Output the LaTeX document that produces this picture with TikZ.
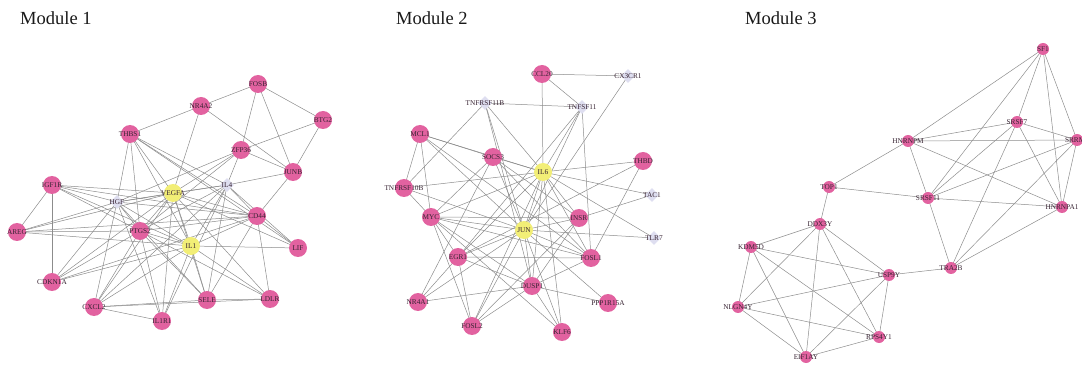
\documentclass[tikz,border=0pt]{standalone}
\usepackage{fontspec}
\setmainfont{Liberation Serif}
\usetikzlibrary{shapes.geometric}
\definecolor{pinkn}{RGB}{226,98,160}
\definecolor{yeln}{RGB}{242,238,118}
\definecolor{lavn}{RGB}{222,222,240}
\definecolor{edgec}{RGB}{140,140,140}
\definecolor{lblc}{RGB}{55,35,50}
\pgfdeclarelayer{bg}
\pgfsetlayers{bg,main}
\tikzset{
  lbl/.style={font=\fontsize{7.3}{8}\selectfont, text=lblc, inner sep=0pt},
  pk/.style={circle, fill=pinkn, minimum size=18pt, inner sep=0pt},
  pks/.style={circle, fill=pinkn, minimum size=12pt, inner sep=0pt},
  yl/.style={circle, fill=yeln, minimum size=18pt, inner sep=0pt},
  lv/.style={diamond, fill=lavn, minimum size=14pt, inner sep=0pt},
  edge/.style={draw=edgec, line width=0.5pt},
  title/.style={font=\fontsize{18.5}{22}\selectfont, text=black!90, anchor=west, inner sep=0pt}
}
\newcommand{\gn}[4]{\node[#1, label={[lbl]center:#3}] (#2) at #4 {};}
\begin{document}
\begin{tikzpicture}[x=1pt,y=-1pt]
\useasboundingbox (0,0) rectangle (1082,366);
\node[title] (t1) at (20,18) {Module 1};
\node[title] (t2) at (396,18) {Module 2};
\node[title] (t3) at (745,18) {Module 3};
% Module 1
\gn{pk}{FOSB}{FOSB}{(258,84)}
\gn{pk}{NR4A2}{NR4A2}{(201,106)}
\gn{pk}{BTG2}{BTG2}{(323,120)}
\gn{pk}{THBS1}{THBS1}{(130,134)}
\gn{pk}{ZFP36}{ZFP36}{(241,150)}
\gn{pk}{JUNB}{JUNB}{(293,172)}
\gn{pk}{IGF1R}{IGF1R}{(52,185)}
\gn{yl}{VEGFA}{VEGFA}{(173,193)}
\gn{lv}{IL4}{IL4}{(227,185)}
\gn{lv}{HGF}{HGF}{(117,202)}
\gn{pk}{AREG}{AREG}{(17,232)}
\gn{pk}{PTGS2}{PTGS2}{(140,231)}
\gn{yl}{IL1}{IL1}{(191,246)}
\gn{pk}{CD44}{CD44}{(257,216)}
\gn{pk}{LIF}{LIF}{(298,248)}
\gn{pk}{CDKN1A}{CDKN1A}{(52,282)}
\gn{pk}{CXCL2}{CXCL2}{(94,307)}
\gn{pk}{IL1R1}{IL1R1}{(162,321)}
\gn{pk}{SELE}{SELE}{(207,300)}
\gn{pk}{LDLR}{LDLR}{(270,299)}
% Module 2
\gn{pk}{CCL20}{CCL20}{(542,74)}
\gn{lv}{TNFRSF11B}{TNFRSF11B}{(485,103)}
\gn{lv}{CX3CR1}{CX3CR1}{(628,76)}
\gn{lv}{TNFSF11}{TNFSF11}{(582,107)}
\gn{pk}{MCL1}{MCL1}{(420,134)}
\gn{pk}{SOCS3}{SOCS3}{(493,157)}
\gn{yl}{IL6}{IL6}{(543,172)}
\gn{pk}{THBD}{THBD}{(643,161)}
\gn{pk}{TNFRSF10B}{TNFRSF10B}{(404,188)}
\gn{lv}{TAC1}{TAC1}{(652,195)}
\gn{pk}{MYC}{MYC}{(431,217)}
\gn{yl}{JUN}{JUN}{(524,230)}
\gn{pk}{INSR}{INSR}{(579,218)}
\gn{lv}{TLR7}{TLR7}{(654,238)}
\gn{pk}{EGR1}{EGR1}{(458,257)}
\gn{pk}{FOSL1}{FOSL1}{(591,258)}
\gn{pk}{DUSP1}{DUSP1}{(532,286)}
\gn{pk}{NR4A1}{NR4A1}{(418,302)}
\gn{pk}{PPP1R15A}{PPP1R15A}{(608,303)}
\gn{pk}{FOSL2}{FOSL2}{(472,326)}
\gn{pk}{KLF6}{KLF6}{(562,332)}
% Module 3
\gn{pks}{SF1}{SF1}{(1043,49)}
\gn{pks}{SRSF7}{SRSF7}{(1017,122)}
\gn{pks}{HNRNPM}{HNRNPM}{(908,141)}
\gn{pks}{SRRM2}{SRRM2}{(1077,140)}
\gn{pks}{TOP1}{TOP1}{(829,187)}
\gn{pks}{SRSF11}{SRSF11}{(928,198)}
\gn{pks}{HNRNPA1}{HNRNPA1}{(1062,207)}
\gn{pks}{DDX3Y}{DDX3Y}{(820,224)}
\gn{pks}{KDM5D}{KDM5D}{(751,247)}
\gn{pks}{TRA2B}{TRA2B}{(951,268)}
\gn{pks}{USP9Y}{USP9Y}{(889,275)}
\gn{pks}{NLGN4Y}{NLGN4Y}{(738,307)}
\gn{pks}{RPS4Y1}{RPS4Y1}{(879,337)}
\gn{pks}{EIF1AY}{EIF1AY}{(806,357)}
\begin{pgfonlayer}{bg}
\foreach \a/\b in {NR4A2/FOSB, FOSB/BTG2, FOSB/ZFP36, FOSB/JUNB, NR4A2/JUNB, NR4A2/VEGFA, NR4A2/THBS1, BTG2/ZFP36, BTG2/JUNB, ZFP36/JUNB, ZFP36/IL4, ZFP36/VEGFA, ZFP36/HGF, ZFP36/PTGS2, IL4/JUNB, JUNB/CD44,
THBS1/HGF, THBS1/PTGS2, THBS1/VEGFA, THBS1/IL1, THBS1/CD44, THBS1/IL4, THBS1/LIF,
IGF1R/AREG, IGF1R/CDKN1A, IGF1R/VEGFA, IGF1R/IL1, IGF1R/PTGS2, IGF1R/CD44, IGF1R/HGF,
AREG/VEGFA, AREG/PTGS2, AREG/IL1, AREG/HGF, AREG/CD44,
CDKN1A/HGF, CDKN1A/PTGS2, CDKN1A/IL1, CDKN1A/VEGFA, CDKN1A/CD44,
CXCL2/HGF, CXCL2/PTGS2, CXCL2/IL1, CXCL2/VEGFA, CXCL2/IL1R1, CXCL2/SELE, CXCL2/IL4, CXCL2/LDLR,
IL1R1/PTGS2, IL1R1/IL1, IL1R1/VEGFA, IL1R1/HGF, IL1R1/IL4,
SELE/IL1, SELE/PTGS2, SELE/VEGFA, SELE/HGF, SELE/LDLR, SELE/CD44, SELE/IL4,
LDLR/CD44, LDLR/IL1, LDLR/VEGFA, LDLR/PTGS2,
LIF/CD44, LIF/IL1, LIF/VEGFA, LIF/IL4,
CD44/IL4, CD44/VEGFA, CD44/IL1, CD44/PTGS2, CD44/HGF,
VEGFA/IL1, VEGFA/PTGS2, VEGFA/HGF, VEGFA/IL4, IL1/PTGS2, IL1/HGF, IL1/IL4, PTGS2/HGF, PTGS2/IL4, HGF/IL4,
CCL20/CX3CR1, CCL20/TNFSF11, CCL20/IL6, TNFRSF11B/TNFSF11, TNFRSF11B/TNFRSF10B, TNFRSF11B/IL6, TNFRSF11B/JUN, TNFRSF11B/DUSP1, CX3CR1/JUN, TNFSF11/IL6, TNFSF11/JUN, TNFSF11/FOSL1, TNFSF11/EGR1,
MCL1/SOCS3, MCL1/IL6, MCL1/TNFRSF10B, MCL1/MYC, MCL1/JUN, MCL1/FOSL1,
SOCS3/IL6, SOCS3/JUN, SOCS3/INSR, SOCS3/FOSL1, SOCS3/MYC, SOCS3/NR4A1,
IL6/THBD, IL6/TAC1, IL6/TLR7, IL6/JUN, IL6/MYC, IL6/EGR1, IL6/DUSP1, IL6/INSR, IL6/FOSL1, IL6/TNFRSF10B, IL6/KLF6, IL6/FOSL2,
THBD/FOSL1, THBD/EGR1, TAC1/INSR, TLR7/JUN,
JUN/MYC, JUN/EGR1, JUN/DUSP1, JUN/INSR, JUN/FOSL1, JUN/NR4A1, JUN/FOSL2, JUN/KLF6, JUN/PPP1R15A, JUN/TNFRSF10B,
MYC/EGR1, MYC/FOSL2, MYC/DUSP1, MYC/FOSL1, MYC/TNFRSF10B, MYC/INSR,
EGR1/FOSL2, EGR1/NR4A1, EGR1/DUSP1, EGR1/FOSL1,
NR4A1/DUSP1, DUSP1/FOSL2, DUSP1/KLF6, DUSP1/PPP1R15A, DUSP1/FOSL1, DUSP1/INSR, KLF6/MYC, FOSL2/INSR,
SF1/HNRNPM, SF1/SRSF7, SF1/SRRM2, SF1/HNRNPA1, SF1/SRSF11,
SRSF7/HNRNPM, SRSF7/SRRM2, SRSF7/HNRNPA1, SRSF7/SRSF11, SRSF7/TRA2B,
HNRNPM/SRRM2, HNRNPM/HNRNPA1, HNRNPM/SRSF11, HNRNPM/TOP1,
SRRM2/SRSF11, SRRM2/HNRNPA1, SRRM2/TRA2B,
SRSF11/HNRNPA1, SRSF11/TOP1, SRSF11/TRA2B, HNRNPA1/TRA2B,
TOP1/DDX3Y, TRA2B/USP9Y,
DDX3Y/KDM5D, DDX3Y/USP9Y, DDX3Y/RPS4Y1, DDX3Y/NLGN4Y, DDX3Y/EIF1AY,
KDM5D/USP9Y, KDM5D/NLGN4Y, KDM5D/EIF1AY, KDM5D/RPS4Y1,
USP9Y/NLGN4Y, USP9Y/EIF1AY, USP9Y/RPS4Y1,
NLGN4Y/RPS4Y1, NLGN4Y/EIF1AY, EIF1AY/RPS4Y1}
  \draw[edge] (\a.center) -- (\b.center);
\end{pgfonlayer}
\end{tikzpicture}
\end{document}
